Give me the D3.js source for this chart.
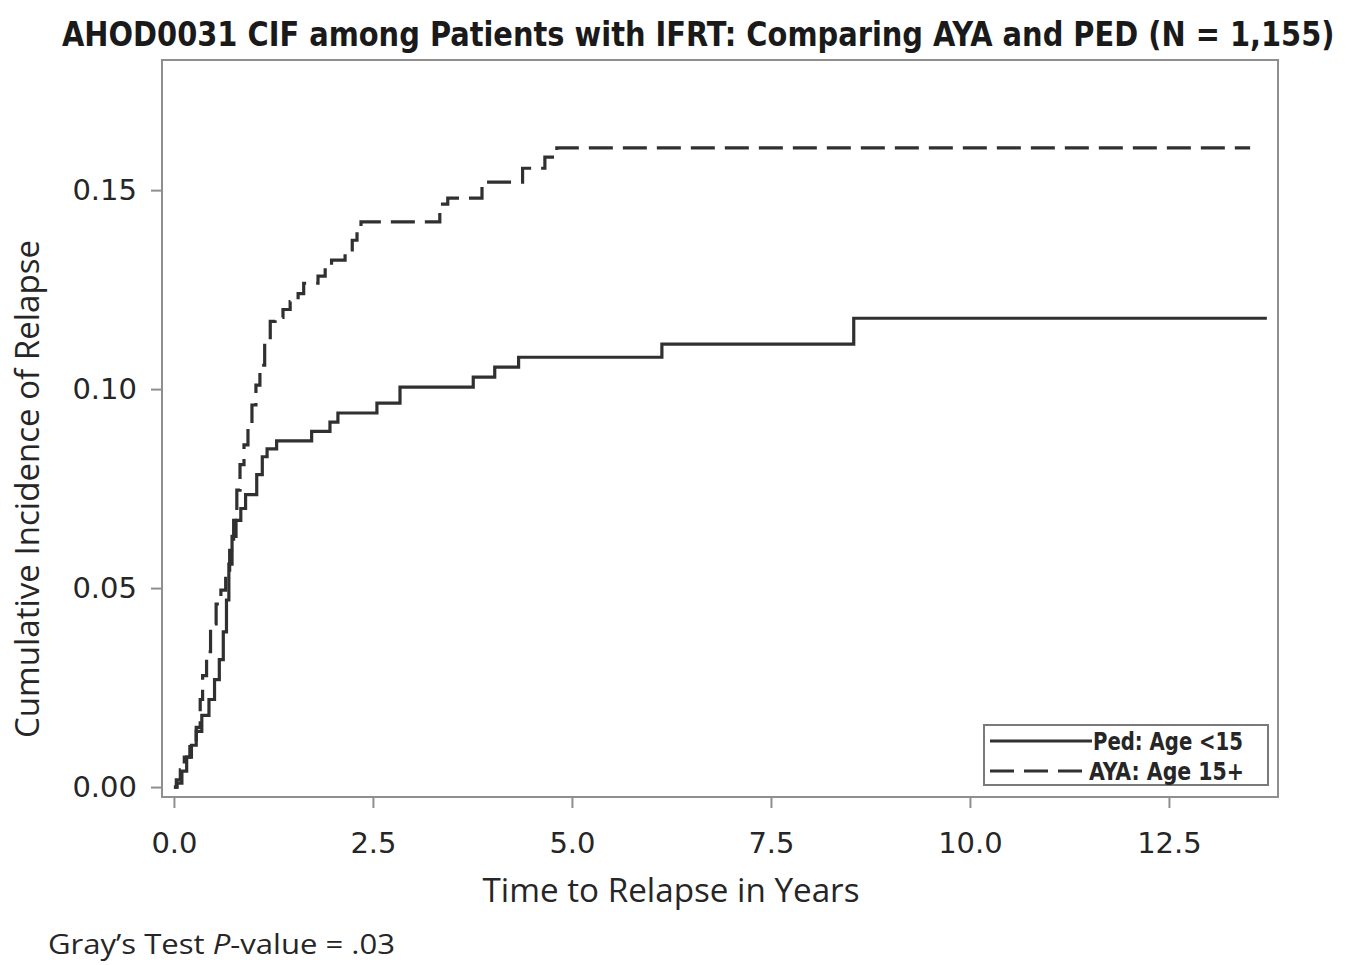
<!DOCTYPE html>
<html>
<head>
<meta charset="utf-8">
<script src="https://cdn.jsdelivr.net/npm/d3@7"></script>
<style>
  html, body { margin: 0; padding: 0; background: #fff; }
  svg { display: block; }
</style>
</head>
<body>
<svg id="chart" width="1358" height="965"></svg>
<script>
// ---- data ----
const pedTimes = [0, 0.04, 0.10, 0.16, 0.22, 0.28, 0.35, 0.44, 0.51, 0.57, 0.62, 0.66, 0.69, 0.73, 0.78, 0.84, 0.90, 1.04, 1.11, 1.17, 1.29, 1.73, 1.96, 2.06, 2.55, 2.84, 3.76, 4.03, 4.33, 6.13, 8.54, 13.73];
const pedValues = [0, 0.001, 0.004, 0.0075, 0.0105, 0.014, 0.018, 0.022, 0.027, 0.032, 0.039, 0.047, 0.056, 0.063, 0.067, 0.070, 0.0735, 0.0785, 0.083, 0.085, 0.087, 0.0894, 0.0917, 0.094, 0.0965, 0.1005, 0.103, 0.1055, 0.108, 0.1113, 0.1178, 0.1178];

const ayaTimes = [0, 0.03, 0.08, 0.13, 0.20, 0.28, 0.33, 0.36, 0.41, 0.46, 0.53, 0.59, 0.65, 0.70, 0.75, 0.79, 0.83, 0.88, 0.93, 0.98, 1.03, 1.08, 1.14, 1.21, 1.27, 1.37, 1.46, 1.56, 1.63, 1.81, 1.90, 1.98, 2.15, 2.24, 2.30, 2.35, 3.34, 3.44, 3.87, 4.38, 4.66, 4.81, 13.52];
const ayaValues = [0, 0.0018, 0.0043, 0.0075, 0.0106, 0.015, 0.022, 0.028, 0.034, 0.041, 0.046, 0.0495, 0.0545, 0.0595, 0.067, 0.0746, 0.081, 0.086, 0.091, 0.096, 0.101, 0.106, 0.112, 0.117, 0.118, 0.120, 0.122, 0.124, 0.1266, 0.1284, 0.1304, 0.1324, 0.135, 0.1374, 0.140, 0.142, 0.1465, 0.148, 0.152, 0.1555, 0.1583, 0.1606, 0.1606];

const xTicks = [0, 2.5, 5.0, 7.5, 10.0, 12.5];
const yTicks = [0, 0.05, 0.10, 0.15];
const seriesNames = ["Ped: Age <15", "AYA: Age 15+"];

const titleText = "AHOD0031 CIF among Patients with IFRT: Comparing AYA and PED (N = 1,155)";
const xLabel = "Time to Relapse in Years";
const yLabel = "Cumulative Incidence of Relapse";

// ---- layout ----
const plot = { left: 162, right: 1278, top: 60, bottom: 797 };
const ink = "#262626";
const frameColor = "#8f8f8f";
const textFont = "'Open Sans', 'DejaVu Sans', sans-serif";
const tickFont = "'DejaVu Sans', sans-serif";
const narrowFont = "'Liberation Sans Narrow', 'DejaVu Sans Condensed', sans-serif";

const svg = d3.select("#chart");

const x = d3.scaleLinear().domain([-0.15, 13.87]).range([plot.left, plot.right]);
const y = d3.scaleLinear().domain([-0.0025, 0.1827]).range([plot.bottom, plot.top]);

// frame
svg.append("rect")
  .attr("x", plot.left).attr("y", plot.top)
  .attr("width", plot.right - plot.left).attr("height", plot.bottom - plot.top)
  .attr("fill", "none").attr("stroke", frameColor).attr("stroke-width", 2);

// axes
const xAxis = d3.axisBottom(x).tickValues(xTicks).tickFormat(d3.format(".1f")).tickSizeOuter(0).tickSize(11).tickPadding(24);
const gx = svg.append("g").attr("transform", `translate(0,${plot.bottom})`).call(xAxis);
gx.select(".domain").remove();
gx.selectAll(".tick line").attr("stroke", frameColor).attr("stroke-width", 2);
gx.selectAll(".tick text").attr("fill", ink).attr("font-size", 29).attr("font-family", tickFont);

const yAxis = d3.axisLeft(y).tickValues(yTicks).tickFormat(d3.format(".2f")).tickSizeOuter(0).tickSize(11).tickPadding(14);
const gy = svg.append("g").attr("transform", `translate(${plot.left},0)`).call(yAxis);
gy.select(".domain").remove();
gy.selectAll(".tick line").attr("stroke", frameColor).attr("stroke-width", 2);
gy.selectAll(".tick text").attr("fill", ink).attr("font-size", 29).attr("font-family", tickFont);

// curves
const line = d3.line().x(d => x(d[0])).y(d => y(d[1])).curve(d3.curveStepAfter);
const pedData = pedTimes.map((t, i) => [t, pedValues[i]]);
const ayaData = ayaTimes.map((t, i) => [t, ayaValues[i]]);

svg.append("path").datum(pedData).attr("d", line)
  .attr("fill", "none").attr("stroke", "#303030").attr("stroke-width", 3.2);
svg.append("path").datum(ayaData).attr("d", line)
  .attr("fill", "none").attr("stroke", "#303030").attr("stroke-width", 3.2)
  .attr("stroke-dasharray", "24,10");

// legend
const lg = svg.append("g");
lg.append("rect").attr("x", 984).attr("y", 725).attr("width", 284).attr("height", 60)
  .attr("fill", "#fff").attr("stroke", "#7a7a7a").attr("stroke-width", 2);
lg.append("line").attr("x1", 990).attr("x2", 1092).attr("y1", 741).attr("y2", 741)
  .attr("stroke", "#303030").attr("stroke-width", 3);
lg.append("line").attr("x1", 990).attr("x2", 1086).attr("y1", 771).attr("y2", 771)
  .attr("stroke", "#303030").attr("stroke-width", 3).attr("stroke-dasharray", "24,10");
lg.append("text").attr("x", 1093).attr("y", 750).text(seriesNames[0])
  .attr("font-size", 24).attr("font-family", narrowFont).attr("font-weight", "bold")
  .attr("fill", ink).attr("textLength", 150).attr("lengthAdjust", "spacingAndGlyphs");
lg.append("text").attr("x", 1089).attr("y", 780).text(seriesNames[1])
  .attr("font-size", 24).attr("font-family", narrowFont).attr("font-weight", "bold")
  .attr("fill", ink).attr("textLength", 155).attr("lengthAdjust", "spacingAndGlyphs");

// title: scale horizontally so it spans the same width as in the reference
const titleWidth = 1273;
const title = svg.append("text").attr("x", 0).attr("y", 0).text(titleText)
  .attr("font-size", 33).attr("font-weight", "bold")
  .attr("font-family", narrowFont)
  .attr("fill", "#1a1a1a");
const natural = title.node().getComputedTextLength() || titleWidth;
title.attr("transform", `translate(62,46) scale(${titleWidth / natural},1)`);

// axis labels
svg.append("text").attr("x", 671).attr("y", 902).attr("text-anchor", "middle").text(xLabel)
  .attr("font-size", 32).attr("font-family", textFont).attr("fill", ink)
  .attr("textLength", 377).attr("lengthAdjust", "spacingAndGlyphs");
svg.append("text").attr("transform", "translate(39,489) rotate(-90)").attr("text-anchor", "middle").text(yLabel)
  .attr("font-size", 32).attr("font-family", textFont).attr("fill", ink)
  .attr("textLength", 498).attr("lengthAdjust", "spacingAndGlyphs");

// footnote
const fn = svg.append("text").attr("x", 48).attr("y", 954)
  .attr("font-size", 28).attr("font-family", textFont).attr("fill", ink)
  .attr("textLength", 347).attr("lengthAdjust", "spacingAndGlyphs");
fn.append("tspan").text("Gray’s Test ");
fn.append("tspan").attr("font-style", "italic").text("P");
fn.append("tspan").text("-value = .03");
</script>
</body>
</html>
